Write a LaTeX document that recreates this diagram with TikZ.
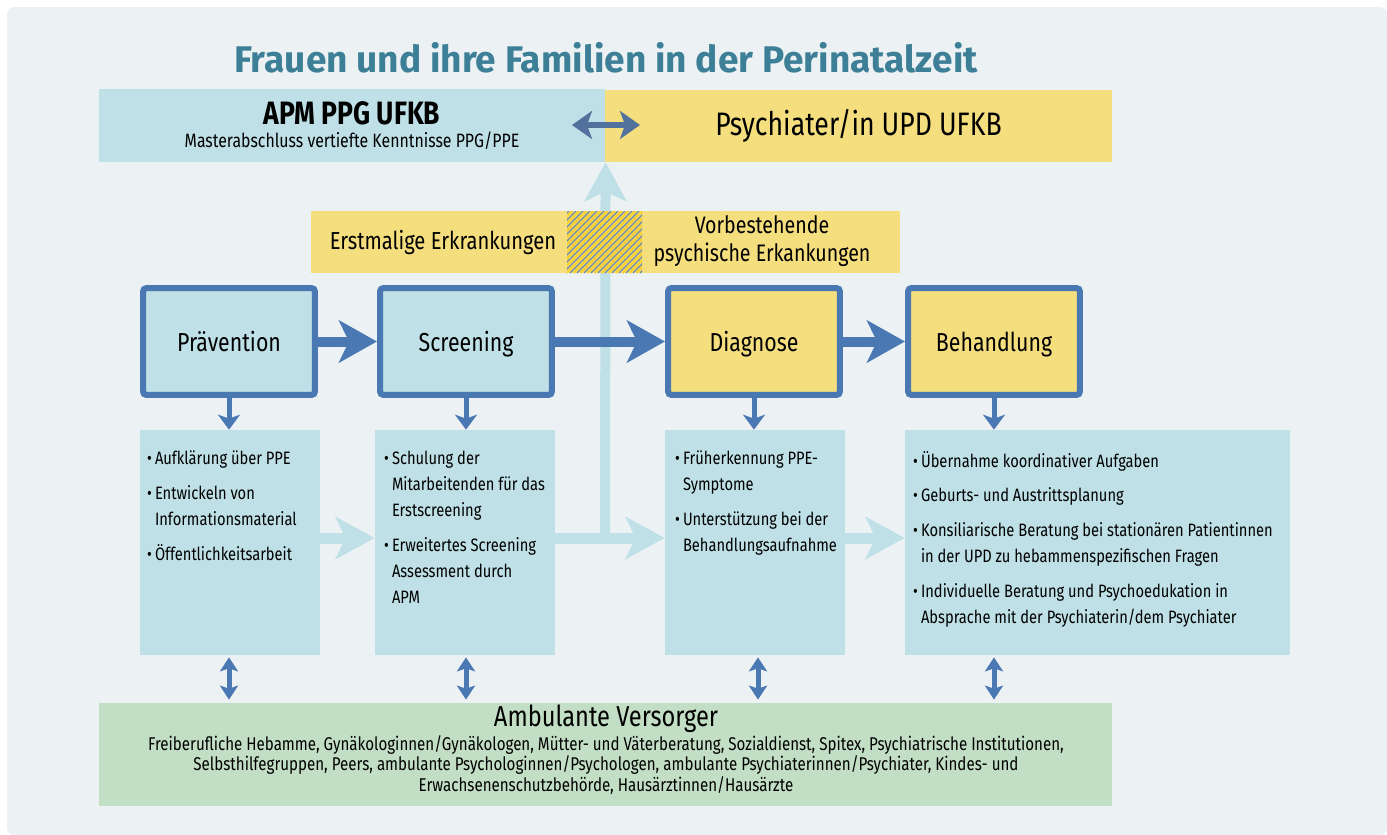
\documentclass[tikz,border=0pt]{standalone}
\usepackage{fontspec}
\setmainfont{Fira Sans}[FakeStretch=0.82]
\newfontfamily\titlefont{Fira Sans}
\usetikzlibrary{arrows.meta,positioning,calc}
\definecolor{panel}{HTML}{ECF1F4}
\definecolor{lightblue}{HTML}{BEE0E6}
\definecolor{sandyellow}{HTML}{F5DE7E}
\definecolor{darkblue}{HTML}{4A78B3}
\definecolor{greyblue}{HTML}{52729D}
\definecolor{softgreen}{HTML}{C2DEC4}
\definecolor{titleteal}{HTML}{3C7F97}
\definecolor{hatchyellow}{HTML}{F8D232}
\newcommand{\bl}{\makebox[0.16cm][l]{\textbullet}}
\newcommand{\ind}{\hspace*{0.16cm}}

\begin{document}
\begin{tikzpicture}[
        x=0.02cm, y=-0.02cm,
        banner/.style={minimum height=1.46cm, minimum width=10.13cm, inner sep=0pt},
        phase/.style={draw=darkblue, line width=0.12cm, rounded corners=2pt,
            minimum width=3.44cm, minimum height=2.14cm,
            text height=1.34em, text depth=0.22em,
            font=\fontsize{14.8}{17}\selectfont},
        detail/.style={fill=lightblue, minimum width=3.6cm, minimum height=4.5cm,
            inner sep=0pt},
        list/.style={anchor=north west, align=left, inner sep=0pt,
            font=\fontsize{10.2}{14.8}\selectfont},
        bigarrow/.style={draw=darkblue, line width=0.2cm,
            -{Stealth[length=0.76cm,width=0.84cm,inset=0.2cm]}},
        lightarrow/.style={draw=lightblue, line width=0.22cm,
            -{Stealth[length=0.78cm,width=0.84cm,inset=0.2cm]}},
        smallarrow/.style={draw=darkblue, line width=0.1cm,
            -{Stealth[length=0.3cm,width=0.44cm,inset=0.08cm]}},
        twoway/.style={draw=darkblue, line width=0.1cm,
            {Stealth[length=0.28cm,width=0.36cm,inset=0.06cm]}-{Stealth[length=0.28cm,width=0.36cm,inset=0.06cm]}},
    ]
    \useasboundingbox (0,0) rectangle (1387,835);
    \fill[panel, rounded corners=4pt] (7,7) rectangle (1387,835);

    % title and the two teams
    \node[font=\titlefont\bfseries\fontsize{21.1}{25}\selectfont, text=titleteal]
        (title) at (606,58) {Frauen und ihre Familien in der Perinatalzeit};
    \node[banner, fill=lightblue, align=center] (apm) at (352,125.5)
        {{\bfseries\fontsize{18.4}{20}\selectfont APM PPG UFKB}\\[1pt]
         {\fontsize{11}{13}\selectfont Masterabschluss vertiefte Kenntnisse PPG/PPE}};
    \node[banner, fill=sandyellow, font=\fontsize{18.5}{21}\selectfont] (psy) at (858.5,126)
        {Psychiater/in UPD UFKB};
    \coordinate (teamL) at (572,125);
    \coordinate (teamR) at (640,125);
    \draw[draw=greyblue, line width=0.12cm,
        {Stealth[length=0.4cm,width=0.56cm,inset=0.1cm]}-{Stealth[length=0.4cm,width=0.56cm,inset=0.1cm]}]
        (teamL) -- (teamR);

    % phases
    \node[phase, fill=lightblue] (prae) at (229,341.5) {Prävention};
    \node[phase, fill=lightblue] (scre) at (466,341.5) {Screening};
    \node[phase, fill=sandyellow] (diag) at (754,341.5) {Diagnose};
    \node[phase, fill=sandyellow] (beha) at (994,341.5) {Behandlung};

    % tasks
    \node[detail] (praeDet) at (230,542.5) {};
    \node[detail] (screDet) at (465,542.5) {};
    \node[detail] (diagDet) at (755,542.5) {};
    \node[detail, minimum width=7.7cm] (behaDet) at (1097.5,542.5) {};

    \node[list] (praeList) at ($(praeDet.north west)+(7,21)$)
        {\bl Aufklärung über PPE\\[5pt]
         \bl Entwickeln von\\
         \ind Informationsmaterial\\[5pt]
         \bl Öffentlichkeitsarbeit};
    \node[list] (screList) at ($(screDet.north west)+(9,21)$)
        {\bl Schulung der\\
         \ind Mitarbeitenden für das\\
         \ind Erstscreening\\[5pt]
         \bl Erweitertes Screening\\
         \ind Assessment durch\\
         \ind APM};
    \node[list] (diagList) at ($(diagDet.north west)+(10,21)$)
        {\bl Früherkennung PPE-\\
         \ind Symptome\\[5pt]
         \bl Unterstützung bei der\\
         \ind Behandlungsaufnahme};
    \node[list] (behaList) at ($(behaDet.north west)+(8,21)$)
        {\bl Übernahme koordinativer Aufgaben\\[5pt]
         \bl Geburts- und Austrittsplanung\\[5pt]
         \bl Konsiliarische Beratung bei stationären Patientinnen\\
         \ind in der UPD zu hebammenspezifischen Fragen\\[5pt]
         \bl Individuelle Beratung und Psychoedukation in\\
         \ind Absprache mit der Psychiaterin/dem Psychiater};

    % light flow between the tasks
    \coordinate (junc) at (605,538);
    \draw[lightarrow] ([yshift=0.09cm]praeDet.east) -- ([yshift=0.09cm]screDet.west);
    \draw[lightarrow] ([yshift=0.09cm]screDet.east) -- ([yshift=0.09cm]diagDet.west);
    \draw[lightarrow] ([yshift=0.09cm]diagDet.east) -- ([yshift=0.09cm]behaDet.west);
    \draw[lightarrow, line width=0.2cm] (junc) -- (apm.south east);

    % kind of illness
    \node[fill=sandyellow, minimum width=11.78cm, minimum height=1.24cm, inner sep=0pt]
        (band) at (605.5,242) {};
    \begin{scope}
        \clip (567,211) rectangle (642,273);
        \fill[sandyellow] (567,211) rectangle (642,273);
        \foreach \i in {500,507,...,650} {
            \draw[greyblue!85, line width=0.022cm] (\i,273) -- (\i+62,211);
            \draw[hatchyellow, line width=0.045cm] (\i+3.5,273) -- (\i+65.5,211);
        }
    \end{scope}
    \node[font=\fontsize{14}{16}\selectfont] (erst) at (443,243) {Erstmalige Erkrankungen};
    \node[font=\fontsize{13.6}{16}\selectfont, align=center] (vorb) at (762,241)
        {Vorbestehende\\psychische Erkankungen};

    % main flow
    \draw[bigarrow] (prae) -- (scre);
    \draw[bigarrow] (scre) -- (diag);
    \draw[bigarrow] (diag) -- (beha);
    \draw[smallarrow] (prae.south) -- (prae |- praeDet.north);
    \draw[smallarrow] (scre.south) -- (scre |- screDet.north);
    \draw[smallarrow] (diag.south) -- (diag |- diagDet.north);
    \draw[smallarrow] (beha.south) -- (beha |- behaDet.north);

    % outpatient care
    \node[fill=softgreen, minimum width=20.26cm, minimum height=2.06cm, inner sep=0pt]
        (amb) at (605.5,754.5) {};
    \node[font=\fontsize{16.4}{18}\selectfont] (ambHead) at (606,719) {Ambulante Versorger};
    \node[font=\fontsize{10.5}{11.9}\selectfont, align=center] (ambText) at (606,765)
        {Freiberufliche Hebamme, Gynäkologinnen/Gynäkologen, Mütter- und Väterberatung, Sozialdienst, Spitex, Psychiatrische Institutionen,\\
         Selbsthilfegruppen, Peers, ambulante Psychologinnen/Psychologen, ambulante Psychiaterinnen/Psychiater, Kindes- und\\
         Erwachsenenschutzbehörde, Hausärztinnen/Hausärzte};
    \draw[twoway] ([yshift=-0.04cm]prae |- praeDet.south) -- ([yshift=0.06cm]prae |- amb.north);
    \draw[twoway] ([yshift=-0.04cm]scre |- screDet.south) -- ([yshift=0.06cm]scre |- amb.north);
    \draw[twoway] ([yshift=-0.04cm]758,0 |- diagDet.south) -- ([yshift=0.06cm]758,0 |- amb.north);
    \draw[twoway] ([yshift=-0.04cm]beha |- behaDet.south) -- ([yshift=0.06cm]beha |- amb.north);
\end{tikzpicture}
\end{document}
